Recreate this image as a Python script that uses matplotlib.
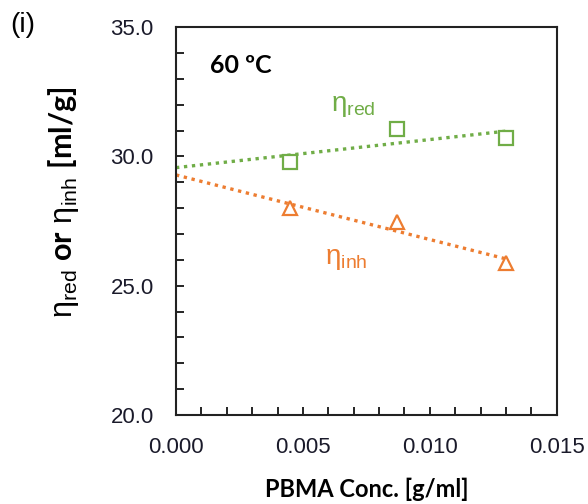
import numpy as np
import matplotlib
matplotlib.use("Agg")
import matplotlib.pyplot as plt
from matplotlib.ticker import MultipleLocator, FormatStrFormatter

# Data
conc = [0.0045, 0.0087, 0.0130]          # PBMA concentration [g/ml]
eta_red = [29.77, 31.08, 30.70]          # reduced viscosity [ml/g]
eta_inh = [27.99, 27.45, 25.87]          # inherent viscosity [ml/g]

GREEN = "#70AD47"
ORANGE = "#ED7D31"

plt.rcParams["font.family"] = ["Liberation Sans", "DejaVu Sans"]
plt.rcParams["mathtext.fontset"] = "custom"
plt.rcParams["mathtext.rm"] = "Liberation Sans"
plt.rcParams["mathtext.bf"] = "Lato:bold"

fig = plt.figure(figsize=(5.88, 5.04), dpi=100)
ax = fig.add_axes([0.2993, 0.1766, 0.6477, 0.7694])

# Linear trend lines from x=0 to the last point
x_fit = np.array([0.0, max(conc)])
for y, color, marker in [(eta_red, GREEN, "s"), (eta_inh, ORANGE, "^")]:
    slope, intercept = np.polyfit(conc, y, 1)
    ax.plot(x_fit, intercept + slope * x_fit, color=color, lw=2.4,
            linestyle=(0, (1, 1.4)), zorder=2)
    ax.plot(conc, y, linestyle="none", marker=marker, markersize=10,
            markerfacecolor="white", markeredgecolor=color, markeredgewidth=1.6,
            zorder=3)

ax.set_xlim(0, 0.015)
ax.set_ylim(20, 35)
ax.xaxis.set_major_locator(MultipleLocator(0.005))
ax.xaxis.set_minor_locator(MultipleLocator(0.001))
ax.yaxis.set_major_locator(MultipleLocator(5))
ax.yaxis.set_minor_locator(MultipleLocator(1))
ax.xaxis.set_major_formatter(FormatStrFormatter("%.3f"))
ax.yaxis.set_major_formatter(FormatStrFormatter("%.1f"))
ax.tick_params(which="both", direction="in", length=6, width=1.2,
               top=False, right=False, labelsize=16, labelcolor="#1a1a2a")
ax.tick_params(axis="x", pad=16)
ax.tick_params(axis="y", pad=16)
for spine in ax.spines.values():
    spine.set_linewidth(1.5)
    spine.set_color("#222222")

ax.set_xlabel("PBMA Conc. [g/ml]", fontsize=17, fontweight="bold",
              family=["Lato", "DejaVu Sans"], labelpad=14)
ax.set_ylabel(r"$\mathrm{\eta}_{\mathrm{red}}$ $\mathbf{or}$ "
              r"$\mathrm{\eta}_{\mathrm{inh}}$ $\mathbf{[ml/g]}$",
              fontsize=22)
ax.yaxis.set_label_coords(-0.25, 0.55)

ax.text(0.09, 0.90, "60 ºC", transform=ax.transAxes, fontsize=18,
        fontweight="bold", family=["Lato", "DejaVu Sans"], va="center")
ax.text(0.0070, 31.95, r"$\mathrm{\eta}_{\mathrm{red}}$", color=GREEN,
        fontsize=20, va="center", ha="center")
ax.text(0.0067, 26.05, r"$\mathrm{\eta}_{\mathrm{inh}}$", color=ORANGE,
        fontsize=20, va="center", ha="center")
fig.text(0.017, 0.95, "(i)", fontsize=20, va="center")

fig.savefig("out.png", dpi=100)
